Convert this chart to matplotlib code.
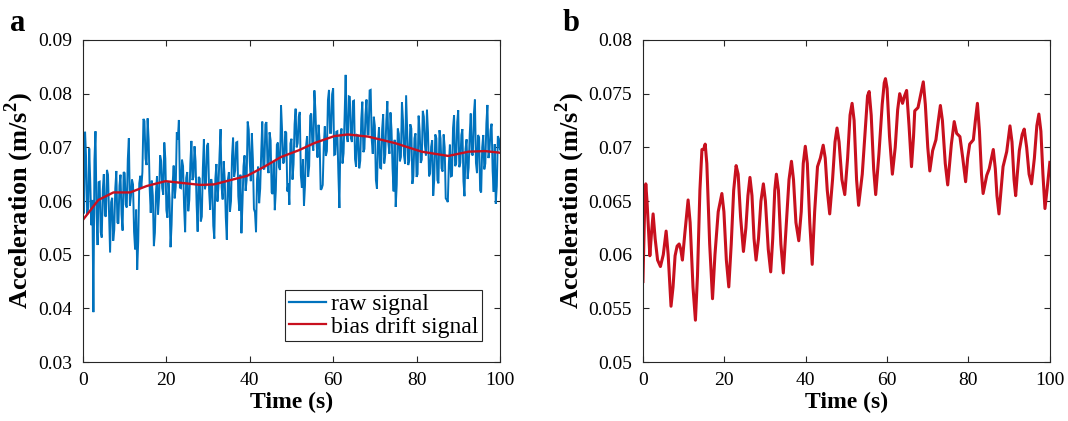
import matplotlib
matplotlib.use('Agg')
import matplotlib.pyplot as plt
import numpy as np

plt.rcParams['font.family'] = ['Liberation Serif', 'DejaVu Serif']
plt.rcParams['mathtext.fontset'] = 'custom'
plt.rcParams['mathtext.rm'] = 'Liberation Serif'
plt.rcParams['mathtext.bf'] = 'Liberation Serif:bold'

# panel a: raw signal, values in 1e-4 m/s^2
# samples at 0, 0.5, 1.0 ... s
raw_on_half_seconds = [
    595, 729, 575, 698, 555, 393, 730, 518, 636, 532,
    650, 571, 649, 504, 606, 546, 656, 558, 649, 545,
    652, 588, 717, 609, 631, 510, 472, 633, 625, 753,
    679, 754, 623, 638, 516, 616, 575, 685, 624, 709,
    583, 635, 514, 632, 605, 728, 751, 624, 665, 542,
    654, 602, 712, 645, 674, 543, 642, 571, 715, 633,
    708, 584, 628, 530, 669, 629, 734, 603, 640, 528,
    654, 600, 718, 657, 710, 582, 540, 665, 619, 748,
    673, 726, 585, 542, 664, 623, 748, 659, 747, 652,
    713, 613, 583, 705, 663, 778, 670, 730, 618, 593,
    716, 668, 772, 708, 766, 625, 591, 702, 645, 759,
    707, 806, 709, 742, 621, 630, 739, 693, 807, 727,
    810, 687, 730, 587, 735, 689, 835, 710, 794, 710,
    787, 664, 722, 675, 785, 697, 789, 724, 807, 688,
    740, 623, 737, 661, 762, 687, 786, 688, 732, 618,
    589, 735, 674, 784, 685, 797, 667, 743, 632, 717,
    645, 759, 671, 768, 705, 770, 646, 701, 610, 724,
    639, 732, 661, 724, 605, 598, 705, 647, 760, 669,
    769, 671, 734, 609, 715, 662, 763, 685, 789, 652,
    719, 616, 723, 670, 779, 695, 744, 617, 595, 721,
    696,
]
# samples at 0.25, 0.75, 1.25 ... s
raw_on_quarter_offsets = [
    577, 680, 587, 634, 602, 677, 577, 635, 542, 621,
    573, 658, 574, 598, 526, 624, 560, 629, 575, 654,
    593, 678, 591, 640, 543, 584, 525, 647, 654, 749,
    667, 714, 578, 610, 541, 646, 608, 675, 612, 679,
    569, 605, 556, 666, 627, 715, 625, 677, 589, 643,
    581, 670, 639, 702, 594, 645, 562, 661, 622, 703,
    619, 641, 554, 642, 599, 687, 626, 674, 569, 639,
    580, 684, 645, 709, 609, 649, 595, 685, 639, 733,
    637, 678, 579, 641, 596, 691, 661, 743, 667, 728,
    616, 673, 619, 709, 658, 732, 673, 727, 633, 707,
    640, 743, 700, 757, 648, 678, 629, 721, 665, 763,
    694, 768, 681, 712, 623, 702, 684, 788, 727, 799,
    686, 729, 651, 721, 670, 758, 721, 795, 717, 786,
    678, 723, 661, 753, 691, 761, 724, 806, 715, 757,
    639, 710, 662, 734, 670, 749, 707, 765, 660, 714,
    630, 725, 682, 750, 669, 730, 675, 735, 647, 726,
    650, 730, 677, 757, 685, 728, 651, 713, 640, 717,
    633, 717, 655, 700, 602, 669, 646, 736, 665, 747,
    663, 723, 637, 697, 641, 723, 687, 762, 671, 723,
    620, 700, 659, 745, 680, 732, 656, 706, 628, 716,
]
raw_time = np.arange(0, 100.125, 0.25)
raw_signal = np.empty(len(raw_time))
raw_signal[0::2] = raw_on_half_seconds
raw_signal[1::2] = raw_on_quarter_offsets
raw_signal *= 1e-4

# panel a: bias drift (smooth trend)
drift_time = [0, 3.7, 7.3, 11.3, 15.3, 19.8, 23.4, 28.2, 31.4, 35.4, 39.4, 43.5,
              47.5, 51.9, 55.5, 60.3, 63.5, 68.4, 74.8, 81.2, 87.6, 92.5, 96.5, 100]
drift_signal = [0.0565, 0.0602, 0.0616, 0.0616, 0.0628, 0.0637, 0.0634, 0.0630,
                0.0631, 0.0639, 0.0647, 0.0664, 0.0682, 0.0695, 0.0708, 0.0721,
                0.0724, 0.0720, 0.0708, 0.0692, 0.0684, 0.0692, 0.0693, 0.0690]

# panel b: bias drift signal, values in 1e-4 m/s^2
b_time = [0.0, 0.4, 0.7, 1.0, 1.7, 2.1, 2.5, 3.0, 3.6, 4.3, 5.0, 5.7, 6.2, 6.9, 7.4,
          7.9, 8.4, 8.9, 9.3, 9.7, 10.3, 11.1, 11.6, 12.3, 12.9, 13.4, 14.0, 14.5,
          14.9, 15.3, 15.7, 16.4, 17.1, 17.7, 18.5, 19.4, 19.9, 20.5, 21.1, 21.7,
          22.3, 22.9, 23.4, 24.0, 24.7, 25.3, 25.8, 26.3, 26.8, 27.3, 27.8, 28.4,
          29.0, 29.6, 30.1, 30.8, 31.4, 31.9, 32.4, 32.8, 33.3, 33.9, 34.5, 35.1,
          35.9, 36.5, 37.0, 37.6, 38.3, 38.9, 39.4, 39.9, 40.4, 41.0, 41.6, 42.2,
          42.9, 43.6, 44.3, 44.8, 45.3, 45.9, 46.6, 47.2, 47.7, 48.2, 48.9, 49.6,
          50.3, 50.9, 51.4, 51.9, 52.5, 53.0, 53.9, 54.7, 55.2, 55.6, 56.1, 56.7,
          57.2, 58.0, 58.8, 59.3, 59.6, 60.0, 60.6, 61.3, 62.0, 62.6, 63.1, 63.8,
          64.3, 64.8, 65.4, 66.0, 66.5, 66.8, 67.6, 68.4, 68.9, 69.4, 70.0, 70.5,
          71.2, 72.0, 72.6, 73.1, 73.6, 74.3, 74.9, 75.5, 75.8, 76.5, 77.1, 77.9,
          78.6, 79.3, 79.8, 80.3, 81.2, 81.7, 82.2, 82.7, 83.2, 83.6, 84.5, 85.1,
          86.1, 86.6, 87.0, 87.5, 88.0, 88.5, 89.4, 90.2, 90.7, 91.2, 91.6, 92.0,
          92.5, 93.2, 93.7, 94.3, 94.9, 95.5, 96.2, 96.8, 97.3, 97.8, 98.3, 98.8,
          99.3, 100.0]
b_signal_1e4 = [575, 640, 666, 650, 599, 620, 638, 615, 595, 589, 600, 622, 600, 552, 570,
                599, 608, 610, 605, 595, 620, 651, 630, 570, 539, 580, 660, 698,
                698, 703, 685, 610, 559, 600, 640, 657, 640, 595, 570, 610,
                660, 683, 675, 635, 603, 625, 655, 672, 655, 615, 595, 615,
                650, 666, 650, 605, 584, 615, 660, 675, 660, 610, 583, 620,
                670, 687, 670, 630, 613, 640, 685, 701, 685, 630, 591, 640,
                682, 690, 702, 690, 660, 638, 670, 705, 718, 705, 670, 656,
                690, 730, 741, 725, 670, 646, 675, 720, 748, 752, 730, 680,
                656, 694, 740, 760, 764, 755, 710, 675, 700, 735, 750, 741,
                748, 753, 720, 682, 710, 734, 737, 752, 761, 740, 700, 678,
                697, 707, 725, 739, 725, 685, 665, 690, 703, 724, 713, 710,
                690, 668, 690, 703, 707, 725, 741, 715, 675, 657, 674, 680,
                698, 680, 655, 638, 660, 682, 696, 720, 705, 670, 655, 675,
                697, 712, 717, 700, 675, 666, 690, 720, 731, 715, 675, 643,
                660, 686]
b_signal = np.array(b_signal_1e4) * 1e-4

BLUE = '#0072BD'
RED = '#C8101E'
AXIS_COLOR = '#262626'
TICK_FS = 14
LABEL_FS = 17
YLABEL_FS = 19

fig = plt.figure(figsize=(10.68, 4.21), dpi=100)
ax_a = fig.add_axes([0.0777, 0.140, 0.3904, 0.765])
ax_b = fig.add_axes([0.602, 0.140, 0.381, 0.765])


def style_axis(ax):
    for sp in ax.spines.values():
        sp.set_color(AXIS_COLOR)
        sp.set_linewidth(0.8)
    ax.tick_params(direction='in', top=True, right=True, length=4, width=0.8,
                   color=AXIS_COLOR, labelsize=TICK_FS)
    ax.tick_params(axis='x', pad=7)
    ax.tick_params(axis='y', pad=8)
    ax.set_xlim(0, 100)
    ax.set_xticks([0, 20, 40, 60, 80, 100])
    ax.set_xlabel('Time (s)', fontsize=LABEL_FS, fontweight='bold', labelpad=2)
    ax.set_ylabel(r'Acceleration (m/s$^\mathbf{2}$)', fontsize=YLABEL_FS,
                  fontweight='bold', labelpad=1)


ax_a.plot(raw_time, raw_signal, color=BLUE, lw=1.4, solid_joinstyle='miter',
          label='raw signal')
ax_a.plot(drift_time, drift_signal, color=RED, lw=1.7, label='bias drift signal')
ax_a.set_ylim(0.03, 0.09)
ax_a.set_yticks([0.03, 0.04, 0.05, 0.06, 0.07, 0.08, 0.09])
ax_a.set_yticklabels(['0.03', '0.04', '0.05', '0.06', '0.07', '0.08', '0.09'])
style_axis(ax_a)
leg = ax_a.legend(loc='lower right', bbox_to_anchor=(0.957, 0.065), borderaxespad=0,
                  fontsize=LABEL_FS, fancybox=False, framealpha=1, handlelength=1.6,
                  handletextpad=0.2, borderpad=0.15, labelspacing=0.05)
leg.get_frame().set_edgecolor(AXIS_COLOR)
leg.get_frame().set_linewidth(0.8)
for line in leg.get_lines():
    line.set_linewidth(1.6)

ax_b.plot(b_time, b_signal, color=RED, lw=2.2, solid_joinstyle='round')
ax_b.set_ylim(0.05, 0.08)
ax_b.set_yticks([0.05, 0.055, 0.06, 0.065, 0.07, 0.075, 0.08])
ax_b.set_yticklabels(['0.05', '0.055', '0.06', '0.065', '0.07', '0.075', '0.08'])
style_axis(ax_b)

fig.text(0.009, 0.926, 'a', fontsize=22, fontweight='bold', ha='left', va='baseline')
fig.text(0.527, 0.926, 'b', fontsize=22, fontweight='bold', ha='left', va='baseline')

fig.savefig('out.png', dpi=100, facecolor='white')
